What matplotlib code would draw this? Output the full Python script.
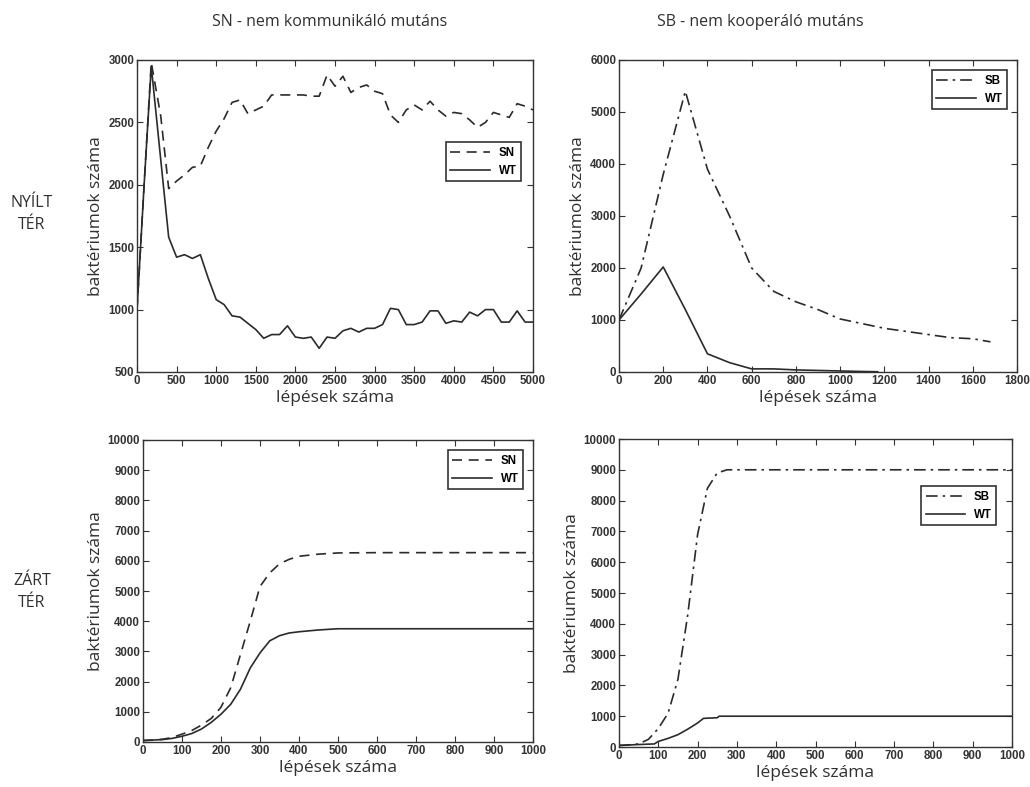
import numpy as np
import matplotlib.pyplot as plt

# --- nyilt ter, SN mutans ---
open_sn_x = [0, 90, 180, 300, 400, 500, 600, 700, 800, 900, 1000, 1100, 1200, 1300, 1400,
             1500, 1600, 1700, 1800, 1900, 2000, 2100, 2200, 2300, 2400, 2500, 2600, 2700,
             2800, 2900, 3000, 3100, 3200, 3300, 3400, 3500, 3600, 3700, 3800, 3900, 4000,
             4100, 4200, 4300, 4400, 4500, 4600, 4700, 4800, 4900, 5000]
open_sn_y = [1000, 2000, 2980, 2550, 1970, 2030, 2080, 2140, 2150, 2300, 2430, 2530, 2660,
             2680, 2570, 2600, 2630, 2720, 2720, 2720, 2720, 2720, 2710, 2710, 2880, 2790,
             2870, 2740, 2780, 2800, 2750, 2730, 2560, 2500, 2600, 2640, 2600, 2670, 2600,
             2550, 2580, 2570, 2520, 2460, 2500, 2580, 2560, 2540, 2650, 2630, 2600]
open_wt_y = [1000, 2000, 2950, 2200, 1580, 1420, 1440, 1410, 1440, 1250, 1080, 1040, 950,
             940, 890, 840, 770, 800, 800, 870, 780, 770, 780, 690, 780, 770, 830, 850, 820,
             850, 850, 880, 1010, 1000, 880, 880, 900, 990, 990, 890, 910, 900, 980, 950,
             1000, 1000, 900, 900, 990, 900, 900]

# --- nyilt ter, SB mutans ---
open_sb_x = [0, 100, 200, 300, 400, 500, 600, 700, 800, 900, 1000, 1100, 1200, 1300, 1400,
             1500, 1600, 1680]
open_sb_y = [1000, 2000, 3800, 5400, 3900, 3000, 2000, 1550, 1350, 1200, 1020, 930, 840,
             780, 720, 660, 640, 580]
open_wt2_x = [0, 100, 200, 300, 400, 500, 600, 700, 800, 900, 1000, 1100, 1170]
open_wt2_y = [1000, 1500, 2020, 1200, 350, 180, 60, 60, 40, 30, 20, 10, 5]

# --- zart ter, SN mutans ---
closed_sn_x = [0, 25, 50, 75, 100, 125, 150, 175, 200, 225, 250, 275, 300, 325, 350, 375,
               400, 450, 500, 600, 1000]
closed_sn_y = [50, 60, 90, 150, 260, 380, 560, 780, 1150, 1800, 2900, 4000, 5150, 5600,
               5900, 6050, 6150, 6220, 6260, 6270, 6270]
closed_wt_x = [0, 50, 75, 100, 125, 150, 175, 200, 225, 250, 275, 300, 325, 350, 375, 400,
               450, 500, 1000]
closed_wt_y = [50, 80, 120, 190, 280, 430, 650, 920, 1250, 1750, 2450, 2950, 3350, 3520,
               3610, 3650, 3710, 3750, 3750]

# --- zart ter, SB mutans ---
closed_sb_x = [0, 25, 50, 75, 100, 125, 150, 175, 200, 225, 250, 275, 1000]
closed_sb_y = [50, 70, 100, 250, 600, 1100, 2200, 4300, 6900, 8400, 8900, 9000, 9000]
closed_wt2_x = [0, 50, 90, 100, 125, 150, 175, 200, 215, 250, 255, 1000]
closed_wt2_y = [50, 80, 100, 180, 280, 400, 580, 780, 930, 950, 1000, 1000]

LINE = '#2b2b2b'
TXT = '#303030'
DASH = (0, (6, 4))
DASHDOT = (0, (7, 3, 1.5, 3))
plt.rcParams['font.family'] = ['Open Sans', 'DejaVu Sans']

fig = plt.figure(figsize=(10.3, 7.87), dpi=100)
W, H = 1030, 787


def make_axes(left, top, right, bottom):
    return fig.add_axes([left / W, 1 - bottom / H, (right - left) / W, (bottom - top) / H])


def style(ax, xlim, ylim, xticks, yticks):
    ax.set_xlim(*xlim)
    ax.set_ylim(*ylim)
    ax.set_xticks(xticks)
    ax.set_yticks(yticks)
    ax.tick_params(direction='in', top=True, right=True, length=4, width=0.8,
                   color='#333333', labelsize=8.3, pad=2)
    for lab in ax.get_xticklabels() + ax.get_yticklabels():
        lab.set_family('Liberation Sans')
        lab.set_fontweight('bold')
        lab.set_color('#333333')
    for s in ax.spines.values():
        s.set_linewidth(1.0)
        s.set_color('#333333')
    ax.set_xlabel('lépések száma', fontsize=12.5, color=TXT, labelpad=2)
    ax.set_ylabel('baktériumok száma', fontsize=12.5, color=TXT, labelpad=3)


def legend(ax, anchor):
    leg = ax.legend(loc='upper right', bbox_to_anchor=anchor, fancybox=False,
                    edgecolor='#333333', framealpha=1, handlelength=3.4,
                    prop={'family': 'Liberation Sans', 'weight': 'bold', 'size': 8.3})
    leg.get_frame().set_linewidth(1.2)


ax1 = make_axes(137, 60, 533, 372)
ax1.plot(open_sn_x, open_sn_y, linestyle=DASH, color=LINE, lw=1.2, label='SN')
ax1.plot(open_sn_x, open_wt_y, '-', color=LINE, lw=1.2, label='WT')
style(ax1, (0, 5000), (500, 3000), np.arange(0, 5001, 500), np.arange(500, 3001, 500))
legend(ax1, (0.985, 0.755))

ax2 = make_axes(619, 60, 1017, 372)
ax2.plot(open_sb_x, open_sb_y, linestyle=DASHDOT, color=LINE, lw=1.2, label='SB')
ax2.plot(open_wt2_x, open_wt2_y, '-', color=LINE, lw=1.2, label='WT')
style(ax2, (0, 1800), (0, 6000), np.arange(0, 1801, 200), np.arange(0, 6001, 1000))
legend(ax2, (0.99, 0.985))

ax3 = make_axes(143, 440, 533, 742)
ax3.plot(closed_sn_x, closed_sn_y, linestyle=DASH, color=LINE, lw=1.2, label='SN')
ax3.plot(closed_wt_x, closed_wt_y, '-', color=LINE, lw=1.2, label='WT')
style(ax3, (0, 1000), (0, 10000), np.arange(0, 1001, 100), np.arange(0, 10001, 1000))
legend(ax3, (0.99, 0.985))

ax4 = make_axes(619, 439, 1012, 747)
ax4.plot(closed_sb_x, closed_sb_y, linestyle=DASHDOT, color=LINE, lw=1.2, label='SB')
ax4.plot(closed_wt2_x, closed_wt2_y, '-', color=LINE, lw=1.2, label='WT')
style(ax4, (0, 1000), (0, 10000), np.arange(0, 1001, 100), np.arange(0, 10001, 1000))
legend(ax4, (0.975, 0.865))

fig.text(330 / W, 1 - 22 / H, 'SN - nem kommunikáló mutáns', ha='center', va='center',
         fontsize=11.5, color=TXT)
fig.text(760 / W, 1 - 22 / H, 'SB - nem kooperáló mutáns', ha='center', va='center',
         fontsize=11.5, color=TXT)
fig.text(32 / W, 1 - 214 / H, 'NYÍLT\nTÉR', ha='center', va='center', fontsize=11.5,
         color=TXT, linespacing=1.5)
fig.text(32 / W, 1 - 592 / H, 'ZÁRT\nTÉR', ha='center', va='center', fontsize=11.5,
         color=TXT, linespacing=1.5)

fig.savefig('out.png', dpi=100)
